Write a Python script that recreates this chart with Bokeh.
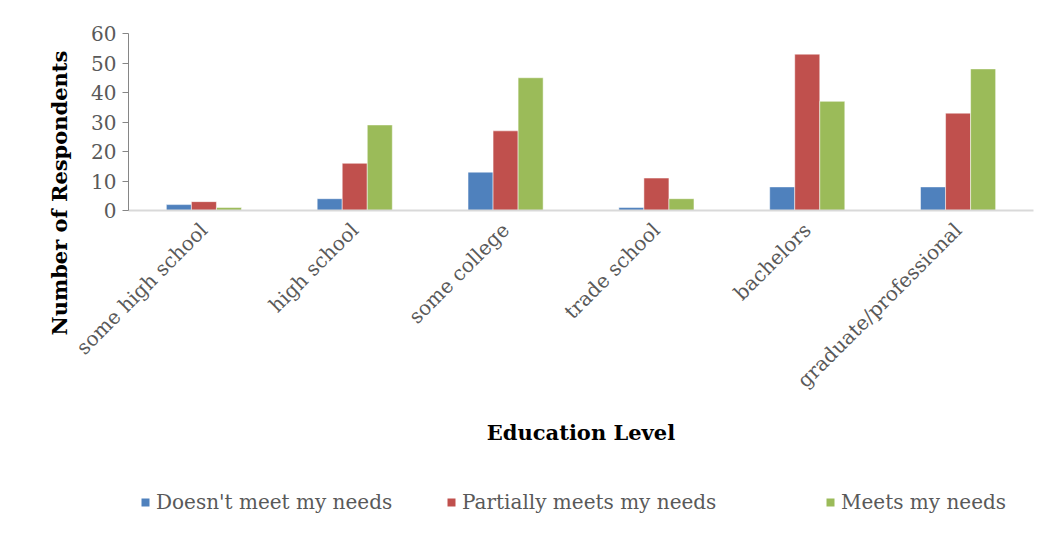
import math
from bokeh.plotting import figure
from bokeh.layouts import column
from bokeh.models import (FactorRange, Range1d, Legend, LegendItem, Title,
                          ColumnDataSource, FixedTicker)
from bokeh.transform import dodge
from bokeh.embed import file_html
from bokeh.resources import INLINE

categories = ["some high school", "high school", "some college",
              "trade school", "bachelors", "graduate/professional"]
series_names = ["Doesn't meet my needs", "Partially meets my needs", "Meets my needs"]
doesnt_meet = [2, 4, 13, 1, 8, 8]
partially_meets = [3, 16, 27, 11, 53, 33]
meets = [1, 29, 45, 4, 37, 48]
y_ticks = [0, 10, 20, 30, 40, 50, 60]
colors = ["#4F81BD", "#C0504D", "#9BBB59"]

source = ColumnDataSource(dict(cat=categories, d=doesnt_meet, p=partially_meets, m=meets))

FONT = "DejaVu Serif"

p = figure(x_range=FactorRange(*categories), y_range=Range1d(0, 60),
           width=1043, height=460, output_backend="svg", toolbar_location=None,
           min_border_left=128, min_border_top=33, min_border_right=10,
           min_border_bottom=250)

bw = 0.166
for off, col, c in zip([-bw, 0.0, bw], ["d", "p", "m"], colors):
    p.vbar(x=dodge("cat", off, range=p.x_range), top=col, width=bw, source=source,
           fill_color=c, line_color="white", line_alpha=0.5, line_width=1)

p.grid.visible = False
p.outline_line_color = None

# y axis
p.yaxis.ticker = FixedTicker(ticks=y_ticks)
p.yaxis.axis_line_color = "#868686"
p.yaxis.major_tick_line_color = "#868686"
p.yaxis.major_tick_out = 6
p.yaxis.major_tick_in = 0
p.yaxis.minor_tick_line_color = None
p.yaxis.major_label_text_font = FONT
p.yaxis.major_label_text_font_size = "20px"
p.yaxis.major_label_text_color = "#595959"
p.yaxis.major_label_standoff = 6

# x axis
p.xaxis.axis_line_color = "#d9d9d9"
p.xaxis.axis_line_width = 2
p.xaxis.major_tick_line_color = None
p.xaxis.minor_tick_line_color = None
p.xaxis.major_label_orientation = math.pi / 4
p.xaxis.major_label_text_font = FONT
p.xaxis.major_label_text_font_size = "20px"
p.xaxis.major_label_text_color = "#595959"
p.xaxis.major_label_standoff = 10
p.xaxis.axis_label = "Education Level"
p.xaxis.axis_label_text_font = FONT
p.xaxis.axis_label_text_font_style = "bold"
p.xaxis.axis_label_text_font_size = "21px"
p.xaxis.axis_label_text_color = "black"
p.xaxis.axis_label_standoff = 16

ylab = Title(text="Number of Respondents", align="left", offset=-125,
             text_font=FONT, text_font_style="bold", text_font_size="21px",
             text_color="black", standoff=30, vertical_align="top")
p.add_layout(ylab, "left")

# legend strip below the chart (same data, drawn out of view; only legend shows)
lf = figure(width=1043, height=78, x_range=FactorRange(*categories),
            y_range=Range1d(100, 101),
            output_backend="svg", toolbar_location=None,
            min_border_left=0, min_border_right=0, min_border_top=0, min_border_bottom=0)
lf.axis.visible = False
lf.grid.visible = False
lf.outline_line_color = None

leg_x = [12, 318, 697]
for name, col, c, lx in zip(series_names, ["d", "p", "m"], colors, leg_x):
    r = lf.vbar(x="cat", top=col, width=0.1, source=source, fill_color=c, line_color=None)
    lg = Legend(items=[LegendItem(label=name, renderers=[r])],
                orientation="horizontal", glyph_width=10, glyph_height=10,
                label_text_font=FONT, label_text_font_size="20px",
                label_text_color="#595959", label_standoff=6,
                border_line_color=None, background_fill_alpha=0,
                location=(lx, 24), padding=0, margin=0)
    lf.add_layout(lg, "center")

layout = column(p, lf, spacing=0)
open("out.html", "w").write(file_html(layout, INLINE))
